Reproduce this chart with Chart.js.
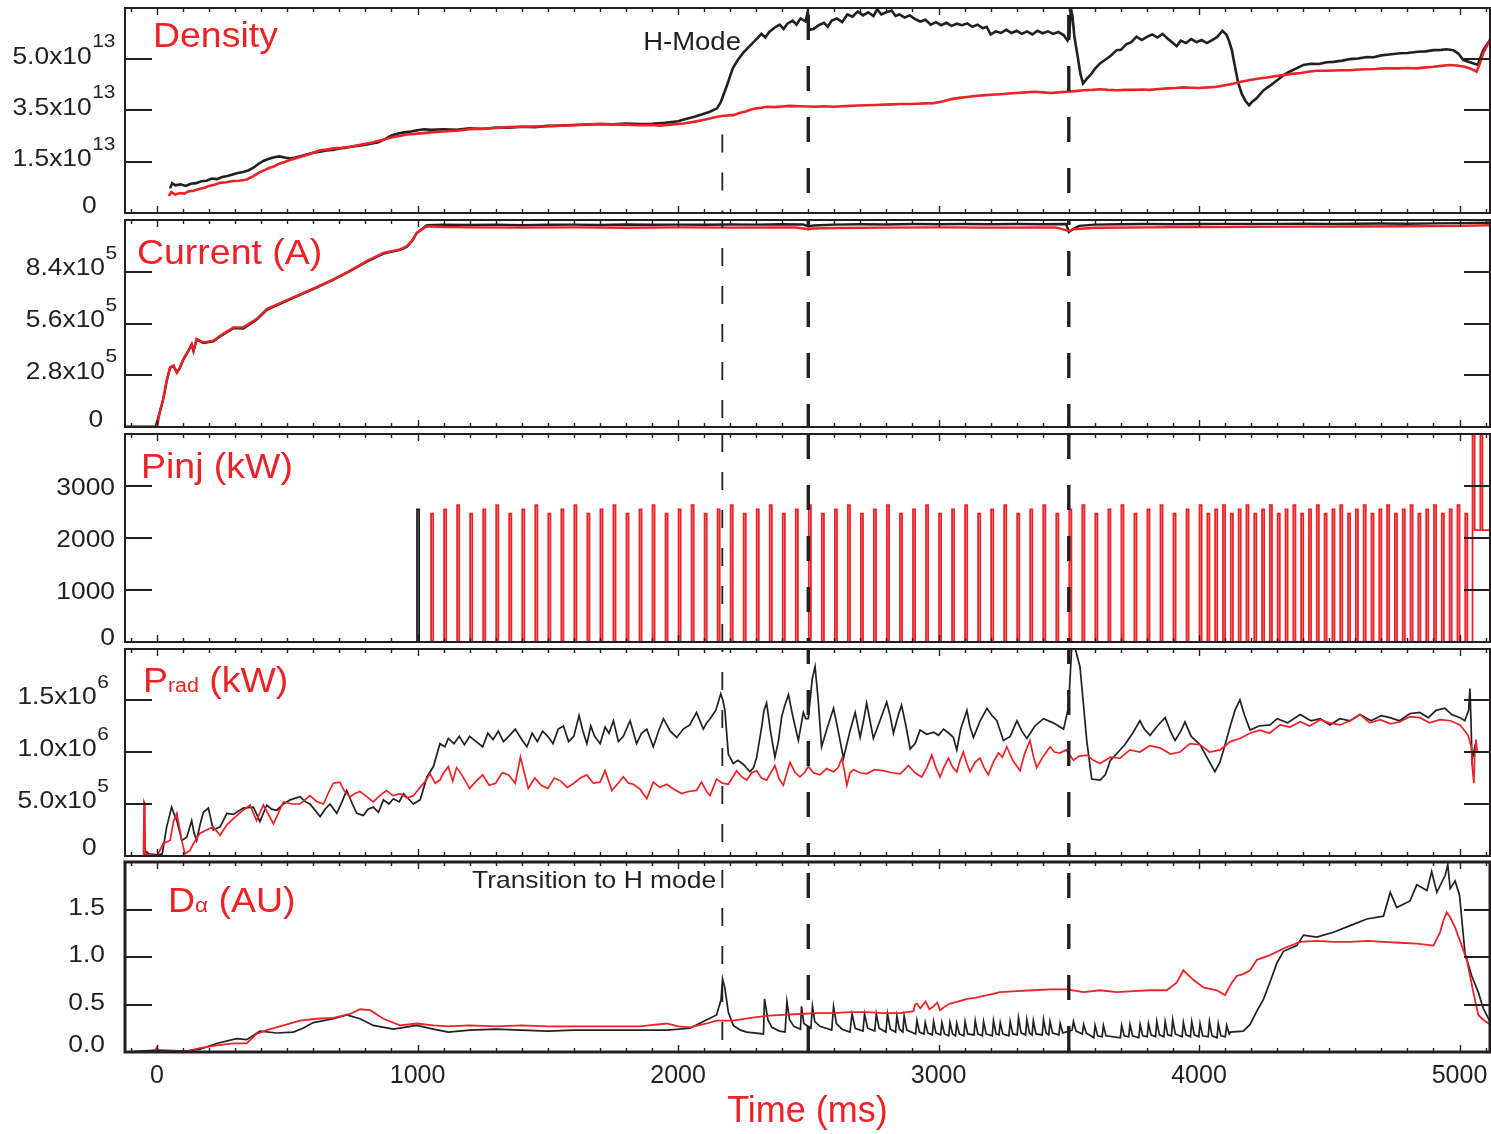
<!DOCTYPE html>
<html>
<head>
<meta charset="utf-8">
<title>Discharge time traces</title>
<script src="https://cdn.jsdelivr.net/npm/chart.js@4.4.1/dist/chart.umd.min.js"></script>
<style>
  html, body { margin: 0; padding: 0; background: #ffffff; }
  #fig { position: relative; width: 1491px; height: 1134px; overflow: hidden; }
  #fig canvas { position: absolute; left: 0; top: 0; }
</style>
</head>
<body>
<div id="fig"></div>
<script>
// ---------------------------------------------------------------
// Time traces of two discharges (black and red), time in ms.
// Each series is a list of [time, value] pairs.
// ---------------------------------------------------------------

// Line-averaged density, units of 1e13
const densityBlack = [[50,0.80],[58,0.97],[70,0.90],[90,0.93],[110,0.88],[130,0.95],[150,0.97],[170,1.03],[190,1.05],[210,1.12],[230,1.10],[250,1.17],[270,1.20],[290,1.25],[310,1.30],[330,1.33],[350,1.38],[370,1.47],[390,1.60],[410,1.70],[430,1.76],[450,1.81],[470,1.84],[490,1.80],[510,1.77],[530,1.80],[550,1.84],[575,1.90],[600,1.96],[625,1.99],[650,2.03],[675,2.05],[700,2.10],[725,2.12],[750,2.16],[775,2.19],[800,2.22],[825,2.26],[850,2.30],[875,2.40],[900,2.52],[925,2.58],[950,2.62],[975,2.65],[1000,2.69],[1025,2.72],[1050,2.70],[1100,2.72],[1150,2.70],[1200,2.75],[1250,2.73],[1300,2.78],[1350,2.77],[1400,2.80],[1450,2.79],[1500,2.83],[1550,2.84],[1600,2.86],[1650,2.87],[1700,2.89],[1750,2.88],[1800,2.91],[1850,2.89],[1900,2.90],[1950,2.93],[2000,2.98],[2030,3.05],[2060,3.12],[2090,3.20],[2120,3.28],[2150,3.40],[2165,3.62],[2175,3.85],[2190,4.20],[2210,4.70],[2230,4.98],[2250,5.20],[2270,5.38],[2290,5.55],[2305,5.68],[2320,5.82],[2335,5.70],[2350,5.88],[2370,6.02],[2390,6.12],[2405,5.98],[2420,6.15],[2440,6.25],[2455,6.12],[2470,6.32],[2490,6.22],[2498,6.55],[2503,5.95],[2520,5.98],[2540,6.10],[2560,6.18],[2575,6.05],[2590,6.25],[2610,6.32],[2630,6.20],[2650,6.45],[2670,6.38],[2690,6.55],[2710,6.42],[2730,6.52],[2750,6.40],[2765,6.62],[2780,6.45],[2800,6.52],[2820,6.58],[2835,6.40],[2850,6.45],[2870,6.35],[2890,6.42],[2910,6.30],[2930,6.22],[2950,6.28],[2970,6.12],[2990,6.20],[3010,6.10],[3030,6.18],[3050,6.08],[3070,6.15],[3090,6.10],[3110,6.16],[3130,6.05],[3150,6.12],[3170,6.00],[3185,6.05],[3200,5.80],[3220,5.90],[3240,5.85],[3260,5.95],[3280,5.85],[3300,5.92],[3320,5.82],[3340,5.90],[3360,5.80],[3380,5.92],[3400,5.84],[3420,5.90],[3440,5.82],[3460,5.88],[3480,5.78],[3495,5.60],[3502,5.75],[3508,6.66],[3514,6.40],[3522,5.70],[3532,5.20],[3545,4.50],[3555,4.21],[3568,4.35],[3585,4.50],[3600,4.68],[3620,4.86],[3640,4.98],[3660,5.10],[3684,5.29],[3700,5.30],[3720,5.48],[3740,5.55],[3760,5.73],[3780,5.62],[3800,5.72],[3820,5.80],[3840,5.70],[3860,5.82],[3880,5.66],[3900,5.52],[3914,5.42],[3930,5.60],[3950,5.52],[3970,5.65],[3990,5.55],[4010,5.62],[4030,5.52],[4050,5.62],[4070,5.72],[4090,5.92],[4105,5.80],[4115,5.60],[4126,5.29],[4138,4.75],[4151,4.21],[4165,3.85],[4180,3.62],[4192,3.50],[4205,3.62],[4220,3.72],[4248,3.99],[4270,4.12],[4290,4.25],[4310,4.38],[4324,4.48],[4345,4.58],[4370,4.68],[4401,4.81],[4430,4.85],[4460,4.84],[4490,4.90],[4516,4.91],[4550,4.95],[4580,5.00],[4610,5.02],[4644,5.07],[4670,5.06],[4700,5.12],[4730,5.15],[4772,5.19],[4800,5.20],[4840,5.24],[4870,5.25],[4900,5.29],[4930,5.30],[4950,5.32],[4976,5.29],[4995,5.18],[5015,4.97],[5040,4.90],[5060,4.84],[5070,4.82],[5091,5.29],[5117,5.62]];
const densityRed = [[45,0.55],[55,0.68],[70,0.60],[88,0.65],[105,0.63],[120,0.70],[140,0.72],[165,0.79],[185,0.83],[200,0.88],[220,0.92],[242,0.98],[265,1.00],[290,1.04],[315,1.05],[344,1.09],[370,1.20],[395,1.33],[415,1.40],[430,1.46],[450,1.52],[472,1.61],[490,1.66],[510,1.72],[530,1.77],[549,1.82],[570,1.87],[590,1.93],[610,1.99],[626,2.04],[650,2.06],[680,2.10],[710,2.12],[741,2.15],[770,2.20],[800,2.25],[830,2.30],[860,2.36],[885,2.42],[907,2.47],[930,2.50],[960,2.55],[1000,2.58],[1050,2.62],[1100,2.65],[1150,2.67],[1200,2.72],[1250,2.74],[1300,2.76],[1350,2.79],[1400,2.80],[1450,2.81],[1500,2.82],[1550,2.84],[1600,2.85],[1650,2.88],[1700,2.89],[1750,2.88],[1800,2.87],[1850,2.85],[1900,2.86],[1931,2.84],[1980,2.88],[2020,2.91],[2060,2.96],[2100,3.03],[2123,3.07],[2145,3.12],[2168,3.15],[2190,3.17],[2212,3.18],[2235,3.25],[2260,3.30],[2280,3.36],[2300,3.40],[2320,3.42],[2340,3.45],[2370,3.44],[2400,3.46],[2430,3.48],[2468,3.47],[2500,3.46],[2530,3.45],[2560,3.47],[2597,3.45],[2630,3.47],[2660,3.48],[2690,3.49],[2725,3.50],[2760,3.51],[2790,3.52],[2820,3.53],[2853,3.54],[2890,3.54],[2920,3.55],[2950,3.56],[2981,3.57],[3015,3.62],[3050,3.70],[3080,3.74],[3109,3.77],[3140,3.80],[3170,3.82],[3200,3.84],[3237,3.86],[3270,3.88],[3300,3.90],[3335,3.92],[3365,3.94],[3400,3.92],[3430,3.90],[3460,3.92],[3492,3.94],[3525,3.96],[3556,3.99],[3590,4.00],[3620,4.02],[3650,4.00],[3684,3.99],[3715,4.00],[3750,4.00],[3780,4.01],[3812,4.00],[3845,4.03],[3880,4.05],[3910,4.06],[3940,4.08],[3970,4.07],[4000,4.06],[4035,4.08],[4068,4.10],[4100,4.15],[4130,4.20],[4165,4.27],[4196,4.32],[4230,4.37],[4260,4.40],[4290,4.44],[4324,4.48],[4355,4.52],[4390,4.55],[4420,4.59],[4452,4.62],[4485,4.62],[4520,4.63],[4550,4.64],[4580,4.64],[4615,4.66],[4650,4.67],[4680,4.68],[4708,4.70],[4740,4.70],[4770,4.70],[4800,4.71],[4836,4.70],[4870,4.73],[4900,4.75],[4930,4.78],[4964,4.81],[4990,4.79],[5020,4.75],[5045,4.68],[5066,4.59],[5080,4.90],[5091,5.19],[5117,5.62]];

// Plasma current, units of 1e5 A
const currentBlack = [[-123,0.02],[-5,0.02],[12,0.88],[24,1.50],[37,2.48],[50,3.20],[63,3.30],[76,2.94],[88,3.20],[101,3.65],[120,4.10],[133,4.45],[140,4.10],[152,4.72],[178,4.55],[216,4.64],[242,4.90],[293,5.35],[331,5.33],[382,5.80],[421,6.33],[480,6.72],[549,7.15],[610,7.52],[677,7.97],[740,8.43],[805,8.95],[869,9.38],[933,9.58],[958,9.74],[980,10.08],[997,10.50],[1036,10.92],[1100,10.95],[1200,10.93],[1300,10.95],[1400,10.92],[1500,10.94],[1600,10.95],[1700,10.93],[1800,10.96],[1900,10.94],[2000,10.95],[2100,10.94],[2200,10.96],[2300,10.95],[2400,10.97],[2480,10.96],[2500,10.85],[2520,10.90],[2600,10.95],[2700,10.97],[2800,10.96],[2900,10.98],[3000,10.97],[3100,10.98],[3200,10.97],[3300,10.98],[3400,10.97],[3490,10.98],[3500,10.55],[3515,10.70],[3540,10.88],[3600,10.95],[3700,10.97],[3800,10.98],[3900,10.97],[4000,10.98],[4100,10.99],[4200,10.98],[4300,10.99],[4400,11.00],[4500,10.99],[4600,11.00],[4700,11.01],[4800,11.00],[4900,11.02],[5000,11.03],[5117,11.05]];
const currentRed = [[-123,0],[0,0],[12,0.90],[24,1.53],[37,2.51],[50,3.23],[63,3.32],[76,2.96],[88,3.23],[101,3.68],[120,4.13],[133,4.49],[140,4.13],[152,4.76],[178,4.58],[216,4.67],[242,4.94],[293,5.39],[331,5.39],[382,5.84],[421,6.38],[480,6.75],[549,7.18],[610,7.55],[677,7.99],[740,8.45],[805,8.98],[869,9.42],[933,9.61],[958,9.78],[980,10.10],[997,10.50],[1036,10.86],[1100,10.82],[1200,10.80],[1400,10.79],[1600,10.80],[1800,10.78],[2000,10.80],[2200,10.79],[2450,10.80],[2500,10.70],[2520,10.74],[2600,10.77],[2800,10.79],[3000,10.80],[3200,10.79],[3450,10.80],[3500,10.60],[3520,10.70],[3600,10.78],[3800,10.80],[4000,10.82],[4200,10.83],[4400,10.84],[4600,10.85],[4800,10.86],[5000,10.88],[5117,10.92]];

// Injected beam power (kW): pulse start times and pulse levels
const pinjPulseStart = [1052,1102,1152,1202,1252,1302,1352,1402,1452,1502,1552,1602,1652,1702,1752,1802,1852,1902,1952,2002,2052,2102,2152,2202,2252,2302,2352,2402,2452,2502,2552,2602,2652,2702,2752,2802,2852,2902,2952,3002,3052,3102,3152,3202,3252,3302,3352,3402,3452,3502,3552,3602,3652,3702,3752,3802,3852,3902,3952,4002,4032,4062,4092,4122,4152,4182,4212,4242,4272,4302,4332,4362,4392,4422,4452,4482,4512,4542,4572,4602,4632,4662,4692,4722,4752,4782,4812,4842,4872,4902,4932,4962,4992,5022];
const pinjPulseLevel = [2466,2551,2634,2466,2551,2634,2466,2551,2634,2466,2551,2634,2466,2551,2634,2466,2551,2634,2466,2551,2634,2466,2551,2634,2466,2551,2634,2466,2551,2634,2466,2551,2634,2466,2551,2634,2466,2551,2634,2466,2551,2634,2466,2551,2634,2466,2551,2634,2466,2551,2634,2466,2551,2634,2466,2551,2634,2466,2551,2634,2466,2551,2634,2466,2551,2634,2466,2551,2634,2466,2551,2634,2466,2551,2634,2466,2551,2634,2466,2551,2634,2466,2551,2634,2466,2551,2634,2466,2551,2634,2466,2551,2634,2466];
const pinjPulseLength = 8;  // ms
const pinjRedTail = [[5050,0],[5050,4400],[5058,4400],[5058,2150],[5080,2150],[5080,4400],[5088,4400],[5088,2150],[5117,2150]];
const pinjBlack = [[-123,0],[998,0],[998,2551],[1006,2551],[1006,0],[5117,0]];

// Radiated power, units of 1e6
const pradBlack = [[-50,0.00],[-40,0.04],[-30,0.02],[0,0.01],[20,0.02],[37,0.28],[56,0.47],[66,0.40],[76,0.34],[95,0.15],[114,0.18],[133,0.34],[142,0.22],[152,0.15],[165,0.30],[178,0.42],[197,0.46],[216,0.25],[242,0.28],[268,0.41],[293,0.40],[331,0.46],[370,0.47],[395,0.33],[421,0.49],[440,0.45],[460,0.44],[485,0.50],[511,0.54],[549,0.57],[570,0.52],[587,0.50],[626,0.38],[645,0.45],[664,0.50],[690,0.41],[710,0.52],[728,0.63],[750,0.50],[767,0.41],[792,0.39],[810,0.45],[830,0.47],[850,0.42],[869,0.54],[890,0.50],[907,0.55],[930,0.52],[946,0.60],[965,0.55],[984,0.50],[1010,0.54],[1036,0.76],[1061,0.86],[1086,1.08],[1105,1.05],[1118,1.13],[1140,1.08],[1160,1.15],[1180,1.07],[1200,1.15],[1225,1.10],[1250,1.05],[1270,1.18],[1290,1.12],[1310,1.20],[1330,1.10],[1350,1.15],[1375,1.22],[1400,1.12],[1420,1.05],[1440,1.18],[1460,1.10],[1480,1.20],[1500,1.15],[1520,1.08],[1540,1.22],[1560,1.25],[1580,1.10],[1600,1.15],[1620,1.35],[1635,1.20],[1650,1.08],[1665,1.25],[1680,1.15],[1701,1.08],[1720,1.24],[1735,1.18],[1752,1.30],[1771,1.10],[1790,1.15],[1816,1.30],[1841,1.08],[1860,1.18],[1880,1.22],[1905,1.05],[1925,1.20],[1944,1.32],[1970,1.20],[1995,1.14],[2020,1.22],[2045,1.26],[2071,1.38],[2097,1.22],[2110,1.28],[2123,1.32],[2145,1.40],[2164,1.56],[2172,1.50],[2180,1.40],[2193,0.98],[2212,0.89],[2230,0.92],[2251,0.88],[2276,0.81],[2290,0.85],[2302,0.95],[2321,1.24],[2330,1.40],[2340,1.47],[2355,1.20],[2372,0.95],[2385,1.10],[2398,1.34],[2410,1.45],[2424,1.55],[2440,1.35],[2462,1.11],[2481,1.38],[2490,1.32],[2500,1.32],[2515,1.70],[2526,1.82],[2538,1.50],[2551,1.05],[2575,1.25],[2597,1.42],[2615,1.20],[2635,0.94],[2660,1.20],[2680,1.38],[2699,1.14],[2712,1.30],[2724,1.47],[2737,1.30],[2750,1.13],[2775,1.30],[2801,1.48],[2814,1.35],[2827,1.18],[2845,1.35],[2858,1.45],[2875,1.25],[2891,1.03],[2910,1.08],[2929,1.21],[2955,1.17],[2981,1.19],[3000,1.16],[3019,1.22],[3040,1.18],[3057,1.14],[3070,1.02],[3085,1.22],[3109,1.40],[3120,1.25],[3134,1.14],[3160,1.30],[3186,1.42],[3205,1.35],[3224,1.30],[3249,1.11],[3275,1.15],[3301,1.30],[3320,1.20],[3339,1.13],[3370,1.25],[3403,1.32],[3440,1.28],[3480,1.22],[3499,1.43],[3511,1.99],[3525,1.99],[3543,1.82],[3569,1.11],[3588,0.74],[3620,0.73],[3640,0.78],[3660,0.92],[3690,1.00],[3715,1.07],[3745,1.18],[3773,1.30],[3790,1.22],[3812,1.16],[3840,1.25],[3870,1.33],[3890,1.20],[3908,1.11],[3930,1.20],[3946,1.29],[3970,1.15],[4004,1.07],[4030,0.95],[4061,0.81],[4080,0.90],[4100,1.07],[4120,1.25],[4138,1.40],[4157,1.50],[4175,1.35],[4196,1.21],[4230,1.25],[4273,1.26],[4300,1.32],[4340,1.28],[4388,1.36],[4430,1.30],[4465,1.32],[4503,1.26],[4540,1.32],[4580,1.30],[4618,1.36],[4660,1.30],[4700,1.35],[4733,1.33],[4770,1.30],[4810,1.37],[4848,1.38],[4880,1.33],[4910,1.40],[4944,1.42],[4970,1.36],[5002,1.33],[5020,1.30],[5035,1.40],[5040,1.61],[5044,1.30],[5048,0.92],[5055,1.00],[5060,1.07]];
const pradRed = [[-52,0.00],[-50,0.52],[-47,0.50],[-45,0.02],[0,0.00],[24,0.12],[50,0.15],[63,0.33],[76,0.41],[95,0.15],[107,0.02],[125,0.05],[140,0.12],[165,0.22],[190,0.25],[216,0.28],[242,0.20],[268,0.30],[293,0.36],[320,0.42],[357,0.49],[382,0.34],[408,0.49],[447,0.31],[485,0.52],[520,0.50],[549,0.50],[587,0.58],[615,0.52],[639,0.50],[660,0.62],[677,0.70],[702,0.71],[720,0.62],[741,0.57],[760,0.60],[779,0.62],[800,0.58],[830,0.52],[855,0.58],[881,0.63],[905,0.58],[933,0.60],[960,0.56],[984,0.58],[1010,0.66],[1030,0.72],[1048,0.79],[1068,0.70],[1086,0.73],[1100,0.80],[1118,0.86],[1135,0.72],[1150,0.85],[1170,0.78],[1200,0.65],[1225,0.72],[1250,0.78],[1275,0.68],[1300,0.70],[1325,0.80],[1350,0.78],[1375,0.70],[1395,0.95],[1410,0.80],[1425,0.65],[1450,0.75],[1475,0.68],[1500,0.65],[1525,0.75],[1550,0.72],[1575,0.66],[1600,0.70],[1625,0.75],[1650,0.78],[1675,0.70],[1701,0.71],[1720,0.82],[1746,0.63],[1770,0.70],[1790,0.76],[1810,0.70],[1829,0.69],[1855,0.64],[1880,0.55],[1905,0.71],[1930,0.66],[1957,0.69],[1985,0.64],[2014,0.60],[2040,0.62],[2071,0.63],[2090,0.71],[2110,0.62],[2123,0.58],[2148,0.74],[2170,0.70],[2193,0.69],[2225,0.82],[2245,0.76],[2264,0.73],[2283,0.80],[2302,0.82],[2320,0.75],[2340,0.73],[2356,0.80],[2372,0.87],[2388,0.74],[2404,0.68],[2418,0.80],[2430,0.90],[2450,0.80],[2468,0.76],[2485,0.80],[2500,0.86],[2520,0.80],[2545,0.78],[2570,0.84],[2597,0.81],[2615,0.85],[2629,0.94],[2640,0.80],[2648,0.68],[2660,0.80],[2673,0.83],[2700,0.80],[2724,0.79],[2755,0.83],[2788,0.82],[2820,0.80],[2853,0.79],[2870,0.83],[2884,0.87],[2910,0.80],[2935,0.76],[2955,0.85],[2974,0.97],[2990,0.85],[3006,0.76],[3020,0.85],[3038,0.94],[3055,0.85],[3070,0.81],[3083,0.92],[3095,1.00],[3110,0.88],[3121,0.81],[3140,0.90],[3159,0.94],[3175,0.85],[3191,0.78],[3210,0.90],[3230,0.99],[3245,0.95],[3262,1.05],[3285,0.92],[3313,0.82],[3330,0.98],[3351,1.11],[3365,0.95],[3377,0.85],[3400,0.95],[3428,1.05],[3445,1.00],[3466,0.99],[3490,1.02],[3518,0.92],[3540,0.96],[3569,0.97],[3595,0.92],[3620,0.89],[3660,0.95],[3697,0.94],[3735,1.02],[3773,1.00],[3810,1.06],[3850,1.04],[3890,0.98],[3927,1.00],[3965,1.08],[4004,1.07],[4040,1.00],[4081,1.02],[4120,1.10],[4157,1.13],[4195,1.18],[4234,1.21],[4270,1.18],[4311,1.26],[4350,1.24],[4388,1.29],[4425,1.25],[4465,1.31],[4500,1.28],[4541,1.26],[4580,1.30],[4618,1.36],[4655,1.28],[4695,1.31],[4735,1.27],[4772,1.29],[4810,1.34],[4848,1.33],[4885,1.28],[4925,1.31],[4965,1.30],[5002,1.26],[5033,1.16],[5045,1.05],[5050,0.83],[5055,0.70],[5058,0.95],[5063,1.12],[5068,1.00]];

// D-alpha emission, arbitrary units
const dalphaBlack = [[-123,0.00],[0,0.02],[114,0.01],[165,0.03],[229,0.09],[305,0.14],[344,0.13],[395,0.22],[460,0.20],[523,0.21],[560,0.25],[600,0.31],[677,0.35],[728,0.39],[779,0.35],[830,0.28],[907,0.24],[997,0.28],[1061,0.24],[1118,0.21],[1200,0.23],[1300,0.24],[1400,0.23],[1500,0.22],[1600,0.23],[1701,0.23],[1850,0.23],[1957,0.23],[2046,0.25],[2110,0.34],[2148,0.39],[2165,0.55],[2171,0.77],[2180,0.67],[2193,0.42],[2212,0.28],[2240,0.23],[2264,0.21],[2328,0.19],[2332,0.56],[2345,0.34],[2360,0.26],[2390,0.22],[2411,0.21],[2418,0.53],[2428,0.34],[2445,0.27],[2470,0.24],[2474,0.48],[2483,0.30],[2510,0.25],[2516,0.48],[2525,0.32],[2545,0.27],[2590,0.23],[2597,0.48],[2608,0.30],[2630,0.24],[2660,0.21],[2668,0.40],[2680,0.25],[2710,0.22],[2716,0.40],[2728,0.25],[2755,0.22],[2761,0.40],[2772,0.25],[2798,0.21],[2804,0.40],[2815,0.24],[2835,0.21],[2840,0.38],[2850,0.24],[2863,0.21],[2868,0.38],[2878,0.23],[2912,0.19],[2917,0.33],[2927,0.21],[2944,0.19],[2949,0.31],[2959,0.20],[2976,0.18],[2981,0.32],[2990,0.20],[3008,0.18],[3013,0.31],[3023,0.19],[3039,0.17],[3044,0.31],[3054,0.19],[3065,0.17],[3070,0.30],[3080,0.19],[3097,0.17],[3102,0.32],[3112,0.19],[3136,0.18],[3141,0.33],[3151,0.19],[3168,0.17],[3173,0.32],[3183,0.19],[3206,0.17],[3211,0.33],[3221,0.19],[3232,0.18],[3237,0.31],[3247,0.19],[3270,0.17],[3275,0.32],[3285,0.19],[3302,0.18],[3307,0.36],[3317,0.20],[3334,0.18],[3339,0.34],[3349,0.20],[3359,0.18],[3364,0.33],[3374,0.19],[3398,0.18],[3403,0.34],[3413,0.20],[3423,0.18],[3428,0.32],[3438,0.20],[3462,0.18],[3467,0.30],[3477,0.20],[3500,0.22],[3513,0.23],[3518,0.32],[3528,0.22],[3552,0.19],[3557,0.29],[3567,0.20],[3596,0.15],[3601,0.28],[3611,0.17],[3628,0.16],[3633,0.28],[3643,0.17],[3698,0.15],[3703,0.28],[3713,0.17],[3730,0.16],[3735,0.29],[3745,0.17],[3769,0.15],[3774,0.29],[3784,0.17],[3801,0.16],[3806,0.30],[3816,0.18],[3833,0.16],[3838,0.32],[3848,0.18],[3865,0.16],[3870,0.32],[3880,0.18],[3894,0.17],[3899,0.34],[3909,0.19],[3935,0.16],[3940,0.31],[3950,0.18],[3967,0.16],[3972,0.32],[3982,0.18],[3999,0.16],[4004,0.30],[4014,0.17],[4035,0.16],[4040,0.32],[4050,0.17],[4069,0.15],[4074,0.30],[4084,0.17],[4101,0.16],[4106,0.28],[4116,0.19],[4120,0.21],[4170,0.22],[4196,0.29],[4222,0.43],[4248,0.56],[4273,0.74],[4298,0.93],[4324,1.06],[4375,1.12],[4401,1.23],[4452,1.21],[4516,1.26],[4580,1.33],[4644,1.40],[4708,1.43],[4734,1.68],[4759,1.52],[4810,1.59],[4836,1.76],[4875,1.70],[4893,1.90],[4913,1.68],[4945,1.86],[4955,1.97],[4964,1.72],[4983,1.80],[5000,1.65],[5021,1.04],[5047,0.80],[5072,0.63],[5091,0.46],[5117,0.32]];
const dalphaRed = [[-123,0.00],[-10,0.00],[0,0.05],[5,0.00],[60,0.01],[114,0.01],[165,0.04],[229,0.07],[293,0.09],[344,0.09],[382,0.19],[421,0.23],[485,0.28],[549,0.33],[613,0.35],[677,0.36],[741,0.40],[779,0.45],[818,0.44],[869,0.35],[933,0.28],[997,0.30],[1061,0.28],[1118,0.27],[1200,0.28],[1300,0.27],[1400,0.28],[1500,0.27],[1600,0.27],[1701,0.27],[1850,0.27],[1957,0.30],[2000,0.27],[2046,0.26],[2110,0.30],[2148,0.33],[2212,0.33],[2280,0.36],[2340,0.38],[2400,0.39],[2468,0.40],[2530,0.41],[2597,0.41],[2660,0.42],[2724,0.42],[2790,0.41],[2853,0.41],[2904,0.43],[2910,0.50],[2917,0.51],[2930,0.46],[2950,0.53],[2965,0.45],[2981,0.48],[2995,0.52],[3006,0.44],[3025,0.48],[3044,0.51],[3075,0.53],[3109,0.56],[3140,0.57],[3173,0.59],[3205,0.61],[3236,0.63],[3300,0.64],[3364,0.65],[3430,0.66],[3492,0.66],[3557,0.63],[3620,0.65],[3684,0.63],[3750,0.64],[3812,0.65],[3876,0.65],[3914,0.73],[3940,0.86],[3955,0.82],[3978,0.76],[4017,0.68],[4068,0.65],[4100,0.60],[4126,0.73],[4145,0.80],[4170,0.82],[4196,0.86],[4222,0.97],[4273,1.02],[4324,1.09],[4388,1.16],[4452,1.17],[4516,1.16],[4580,1.16],[4650,1.17],[4708,1.16],[4770,1.15],[4836,1.14],[4900,1.12],[4925,1.26],[4940,1.40],[4951,1.47],[4964,1.42],[4983,1.31],[5002,1.17],[5028,0.97],[5053,0.63],[5072,0.39],[5091,0.34],[5117,0.29]];

// Event times marked by dashed verticals (ms)
const transitionTime = 2170;
const eventTimes = [2500, 3500];

// Axis ticks and their labels
const timeTicks = [0, 1000, 2000, 3000, 4000, 5000];
const densityTicks = [0, 5 / 3, 10 / 3, 5];
const densityTickText = ['0', '1.5x10', '3.5x10', '5.0x10'];
const densityTickExp = [null, '13', '13', '13'];
const currentTicks = [0, 2.8, 5.6, 8.4];
const currentTickText = ['0', '2.8x10', '5.6x10', '8.4x10'];
const currentTickExp = [null, '5', '5', '5'];
const pinjTicks = [0, 1000, 2000, 3000];
const pinjTickText = ['0', '1000', '2000', '3000'];
const pinjTickExp = [null, null, null, null];
const pradTicks = [0, 0.5, 1.0, 1.5];
const pradTickText = ['0', '5.0x10', '1.0x10', '1.5x10'];
const pradTickExp = [null, '5', '6', '6'];
const dalphaTicks = [0, 0.5, 1.0, 1.5];
const dalphaTickText = ['0.0', '0.5', '1.0', '1.5'];
const dalphaTickExp = [null, null, null, null];

// ---------------------------------------------------------------
// Styling and layout
// ---------------------------------------------------------------
const FONT = '"Liberation Sans", Arial, Helvetica, sans-serif';
const INK = '#231f20';
const RED = '#ec2227';
const W = 1491, H = 1134;
const PLOT_LEFT = 125, PLOT_RIGHT = 1490;
const T_MIN = -123, T_MAX = 5117;

const toPoints = arr => arr.map(p => ({ x: p[0], y: p[1] }));

function pulseTrain(starts, levels, len, tail) {
  const pts = [{ x: 0, y: 0 }];
  starts.forEach((t, i) => {
    pts.push({ x: t, y: 0 }, { x: t, y: levels[i] }, { x: t + len, y: levels[i] }, { x: t + len, y: 0 });
  });
  tail.forEach(p => pts.push({ x: p[0], y: p[1] }));
  return pts;
}

function textScaled(ctx, str, x, y, size, color, align, sx) {
  ctx.save();
  ctx.font = size + 'px ' + FONT;
  const w = ctx.measureText(str).width * sx;
  let left = x;
  if (align === 'right') left = x - w;
  else if (align === 'center') left = x - w / 2;
  ctx.translate(left, y);
  ctx.scale(sx, 1);
  ctx.fillStyle = color;
  ctx.textAlign = 'left';
  ctx.textBaseline = 'alphabetic';
  ctx.fillText(str, 0, 0);
  ctx.restore();
  return w;
}

const panels = [
  {
    top: 8, bottom: 213, min: 0, max: 6.66, frame: 2,
    series: [{ d: densityBlack, c: INK, w: 2.6 }, { d: densityRed, c: RED, w: 2.6 }],
    ticks: densityTicks, tickText: densityTickText, tickExp: densityTickExp,
    mainRight: 91.7, baseOff: 4.5, zeroRight: 96.7, zeroOff: 0,
    title: [{ t: 'Density', s: 35 }], titleDx: 28, titleDy: 39,
    thinFrom: 2.55,
    notes: [{ t: 'H-Mode', x: 1866, y: 5.29, s: 25, align: 'left' }],
    dashPhase: { thin: 0, thick: 44 }
  },
  {
    top: 220, bottom: 427, min: 0, max: 11.2, frame: 2,
    series: [{ d: currentBlack, c: INK, w: 2.4 }, { d: currentRed, c: RED, w: 2.4 }],
    ticks: currentTicks, tickText: currentTickText, tickExp: currentTickExp,
    mainRight: 105, baseOff: 3.5, zeroRight: 103.3, zeroOff: 0,
    title: [{ t: 'Current (A)', s: 35 }], titleDx: 12, titleDy: 44,
    notes: [], dashPhase: { thin: 10, thick: 20 }
  },
  {
    top: 434, bottom: 642, min: 0, max: 4000, frame: 2,
    series: [{ pts: toPoints(pinjBlack), c: INK, w: 1.8 },
             { pts: pulseTrain(pinjPulseStart, pinjPulseLevel, pinjPulseLength, pinjRedTail), c: RED, w: 1.8 }],
    ticks: pinjTicks, tickText: pinjTickText, tickExp: pinjTickExp,
    mainRight: 115, baseOff: 8.8, zeroRight: 115, zeroOff: 3,
    title: [{ t: 'Pinj (kW)', s: 35 }], titleDx: 16, titleDy: 44,
    notes: [], dashPhase: { thin: 0, thick: 0 }
  },
  {
    top: 649, bottom: 856, min: 0, max: 1.99, frame: 2,
    series: [{ d: pradBlack, c: INK, w: 1.7 }, { d: pradRed, c: RED, w: 1.7 }],
    ticks: pradTicks, tickText: pradTickText, tickExp: pradTickExp,
    mainRight: 96.7, baseOff: 4.5, zeroRight: 96.7, zeroOff: -1,
    title: [{ t: 'P', s: 35 }, { t: 'rad', s: 20 }, { t: ' (kW)', s: 35 }], titleDx: 18, titleDy: 43,
    notes: [], dashPhase: { thin: 15, thick: 10 }
  },
  {
    top: 862, bottom: 1052, min: 0, max: 2.0, frame: 3,
    series: [{ d: dalphaBlack, c: INK, w: 1.7 }, { d: dalphaRed, c: RED, w: 1.8 }],
    ticks: dalphaTicks, tickText: dalphaTickText, tickExp: dalphaTickExp,
    mainRight: 105, baseOff: 5.3, zeroRight: 105, zeroOff: -0.3,
    title: [{ t: 'D', s: 35 }, { t: '\u03b1', s: 21 }, { t: ' (AU)', s: 35 }], titleDx: 43, titleDy: 50,
    notes: [{ t: 'Transition to H mode', x: 2146, y: 1.724, s: 24, align: 'right' }],
    timeAxis: true, dashPhase: { thin: 30, thick: 40 }
  }
];

function decorations(p) {
  return {
    id: 'panelDecor',
    afterDatasetsDraw(chart) {
      const { ctx, chartArea: a, scales } = chart;
      const xs = scales.x, ys = scales.y;
      ctx.save();
      ctx.strokeStyle = INK;
      ctx.lineCap = 'butt';

      // frame
      ctx.lineWidth = p.frame;
      ctx.strokeRect(a.left, a.top, a.right - a.left, a.bottom - a.top);

      // time ticks along top and bottom edges, pointing inward
      ctx.lineWidth = 1.4;
      ctx.beginPath();
      for (let t = -100; t <= 5100; t += 100) {
        const px = Math.round(xs.getPixelForValue(t)) + 0.5;
        const len = (t % 1000 === 0) ? 7 : 4;
        ctx.moveTo(px, a.top); ctx.lineTo(px, a.top + len);
        ctx.moveTo(px, a.bottom); ctx.lineTo(px, a.bottom - len);
      }
      ctx.stroke();

      // value ticks on left and right edges, pointing inward
      ctx.lineWidth = 2;
      ctx.beginPath();
      p.ticks.forEach(v => {
        if (v === p.min) return;
        const py = Math.round(ys.getPixelForValue(v));
        ctx.moveTo(a.left, py); ctx.lineTo(a.left + 27, py);
        ctx.moveTo(a.right - 26, py); ctx.lineTo(a.right, py);
      });
      ctx.stroke();

      // value tick labels with optional powers of ten
      p.ticks.forEach((v, i) => {
        const py = ys.getPixelForValue(v);
        if (v === p.min) {
          textScaled(ctx, p.tickText[i], p.zeroRight, py + p.zeroOff, 24, INK, 'right', 1.1);
          return;
        }
        const base = py + p.baseOff;
        textScaled(ctx, p.tickText[i], p.mainRight, base, 24, INK, 'right', 1.1);
        if (p.tickExp[i]) textScaled(ctx, p.tickExp[i], p.mainRight + 0.5, base - 16.5, 19, INK, 'left', 1.1);
      });

      // panel title
      let tx = a.left + p.titleDx;
      p.title.forEach(part => {
        tx += textScaled(ctx, part.t, tx, a.top + p.titleDy, part.s, RED, 'left', 1.07);
      });

      // notes placed in data coordinates
      p.notes.forEach(n => {
        textScaled(ctx, n.t, xs.getPixelForValue(n.x), ys.getPixelForValue(n.y), n.s, INK, n.align, 1.1);
      });
      ctx.restore();
    }
  };
}

const fig = document.getElementById('fig');
const TIME_AXIS_HEIGHT = 78;

panels.forEach(p => {
  const cv = document.createElement('canvas');
  cv.width = W; cv.height = H;
  cv.style.width = W + 'px'; cv.style.height = H + 'px';
  fig.appendChild(cv);

  const datasets = [];
  // dashed event markers, drawn on top
  datasets.push({
    data: [{ x: transitionTime, y: p.thinFrom !== undefined ? p.thinFrom : p.max }, { x: transitionTime, y: p.min }],
    borderColor: INK, borderWidth: 1.8, borderDash: [18, 20], borderDashOffset: p.dashPhase.thin, order: 0
  });
  eventTimes.forEach(t => datasets.push({
    data: [{ x: t, y: p.max }, { x: t, y: p.min }],
    borderColor: INK, borderWidth: 3.4, borderDash: [25, 26], borderDashOffset: p.dashPhase.thick, order: 0
  }));
  // traces: red over black
  p.series.forEach((s, i) => datasets.push({
    data: s.pts || toPoints(s.d),
    borderColor: s.c, borderWidth: s.w, order: i === 1 ? 1 : 2
  }));

  const xScale = p.timeAxis ? {
    type: 'linear', min: T_MIN, max: T_MAX, display: true,
    afterBuildTicks: s => { s.ticks = timeTicks.map(v => ({ value: v })); },
    afterFit: s => { s.height = TIME_AXIS_HEIGHT; s.paddingLeft = 0; s.paddingRight = 0; },
    grid: { display: false, drawTicks: false },
    border: { display: false },
    ticks: { color: INK, font: { family: FONT, size: 25 }, padding: 9, maxRotation: 0, autoSkip: false,
             callback: v => String(v) },
    title: { display: true, text: 'Time (ms)', color: RED, font: { family: FONT, size: 36, lineHeight: 1 }, padding: { top: 0, bottom: 0 } }
  } : { type: 'linear', min: T_MIN, max: T_MAX, display: false };

  new Chart(cv, {
    type: 'line',
    data: { datasets },
    options: {
      responsive: false, animation: false, events: [],
      layout: { padding: { left: PLOT_LEFT, right: W - PLOT_RIGHT, top: p.top,
                           bottom: p.timeAxis ? H - p.bottom - TIME_AXIS_HEIGHT : H - p.bottom } },
      plugins: { legend: { display: false }, tooltip: { enabled: false } },
      elements: { point: { radius: 0 }, line: { tension: 0, fill: false } },
      scales: {
        x: xScale,
        y: { type: 'linear', min: p.min, max: p.max, display: false }
      }
    },
    plugins: [decorations(p)]
  });
});
</script>
</body>
</html>
